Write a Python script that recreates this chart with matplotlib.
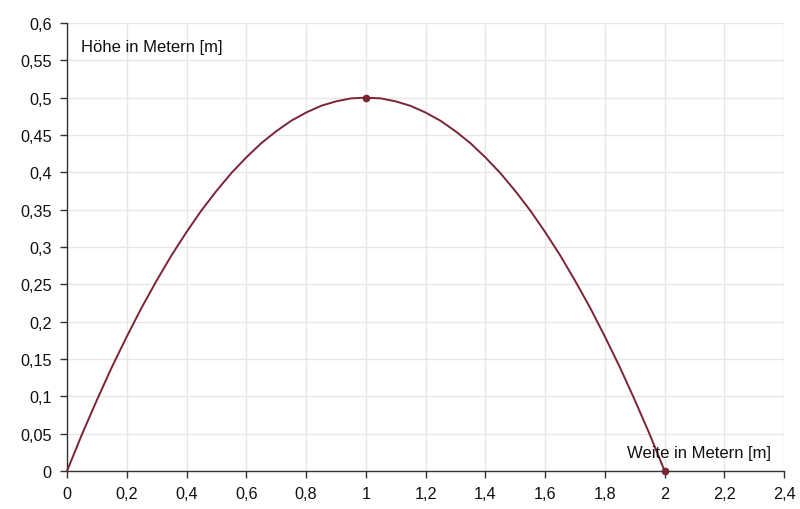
import matplotlib
matplotlib.use("Agg")
import matplotlib.pyplot as plt
from matplotlib.ticker import FuncFormatter

plt.rcParams['font.family'] = ['Liberation Sans', 'DejaVu Sans']

# Curve points (Weite in m, Höhe in m)
weite = [0.0, 0.05, 0.1, 0.15, 0.2, 0.25, 0.3, 0.35, 0.4, 0.45, 0.5,
         0.55, 0.6, 0.65, 0.7, 0.75, 0.8, 0.85, 0.9, 0.95, 1.0,
         1.05, 1.1, 1.15, 1.2, 1.25, 1.3, 1.35, 1.4, 1.45, 1.5,
         1.55, 1.6, 1.65, 1.7, 1.75, 1.8, 1.85, 1.9, 1.95, 2.0]
hoehe = [0.0, 0.049, 0.095, 0.139, 0.18, 0.219, 0.255, 0.289, 0.32, 0.349, 0.375,
         0.399, 0.42, 0.439, 0.455, 0.469, 0.48, 0.489, 0.495, 0.499, 0.5,
         0.499, 0.495, 0.489, 0.48, 0.469, 0.455, 0.439, 0.42, 0.399, 0.375,
         0.349, 0.32, 0.289, 0.255, 0.219, 0.18, 0.139, 0.095, 0.049, 0.0]
marker_x = [1.0, 2.0]
marker_y = [0.5, 0.0]

x_ticks = [0, 0.2, 0.4, 0.6, 0.8, 1, 1.2, 1.4, 1.6, 1.8, 2, 2.2, 2.4]
y_ticks = [0, 0.05, 0.1, 0.15, 0.2, 0.25, 0.3, 0.35, 0.4, 0.45, 0.5, 0.55, 0.6]

color = '#7b2435'

fig = plt.figure(figsize=(8, 5.1), dpi=100)
ax = fig.add_axes([0.08375, 0.0745, 0.8965, 0.8785])

ax.plot(weite, hoehe, color=color, lw=1.4, zorder=3, clip_on=False)
ax.plot(marker_x, marker_y, 'o', color=color, ms=4.5, zorder=4, clip_on=False)

ax.set_xlim(0, 2.4)
ax.set_ylim(0, 0.6)
ax.set_xticks(x_ticks)
ax.set_yticks(y_ticks)

def fmt(v, pos):
    s = ('%.2f' % v).rstrip('0').rstrip('.')
    return s.replace('.', ',')

ax.xaxis.set_major_formatter(FuncFormatter(fmt))
ax.yaxis.set_major_formatter(FuncFormatter(fmt))

ax.grid(True, color='#e6e6e6', lw=1)
ax.set_axisbelow(True)
for s in ['top', 'right']:
    ax.spines[s].set_visible(False)
for s in ['left', 'bottom']:
    ax.spines[s].set_color('#333333')
    ax.spines[s].set_linewidth(1)
ax.tick_params(axis='both', direction='out', length=5, width=1, color='#333333',
               labelsize=11.7, labelcolor='#111111', pad=6)

ax.text(0.047, 0.569, 'Höhe in Metern [m]', fontsize=12, color='#111111',
        ha='left', va='center')
ax.text(2.355, 0.0254, 'Weite in Metern [m]', fontsize=12, color='#111111',
        ha='right', va='center')

fig.savefig('out.png', dpi=100)
